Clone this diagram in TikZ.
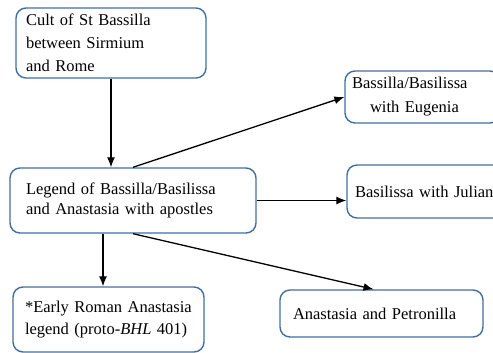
\documentclass[tikz,border=0pt]{standalone}
\usepackage{fontspec}
\setmainfont{Liberation Serif}
\usetikzlibrary{arrows.meta}
\definecolor{boxblue}{RGB}{66,110,158}
\begin{document}
\begin{tikzpicture}[x=1pt,y=-1pt,
  box/.style={draw=boxblue,line width=1.4pt,rounded corners=10pt,align=left,
    font=\fontsize{16.5}{22}\selectfont,inner ysep=0pt},
  link/.style={line width=1.3pt,-{Latex[length=10pt,width=8pt]}}]
\useasboundingbox (0,0) rectangle (493,353);

\node[box,text width=170pt,inner xsep=10pt,minimum height=70pt,
  font=\fontsize{16.5}{23}\selectfont] (cult) at (111,43)
  {Cult of St Bassilla\\between Sirmium\\and Rome};
\node[box,text width=141pt,inner xsep=7pt,minimum height=52pt,
  font=\fontsize{16.5}{24}\selectfont] (eugenia) at (422.5,97)
  {Bassilla/Basilissa\\\hspace*{18pt}with Eugenia};
\node[box,text width=150pt,inner xsep=8pt,minimum height=53pt] (julian) at (430,191.5)
  {Basilissa with Julian};
\node[box,text width=214pt,inner xsep=16pt,minimum height=65pt,
  font=\fontsize{16.5}{20}\selectfont] (legend) at (133,200.5)
  {Legend of Bassilla/Basilissa\\and Anastasia with apostles};
\node[box,text width=167pt,inner xsep=12pt,minimum height=65pt] (early) at (108.5,319.5)
  {*Early Roman Anastasia\\legend (proto-\textit{BHL} 401)};
\node[box,text width=177pt,inner xsep=13pt,minimum height=47pt] (petro) at (381.5,313.5)
  {Anastasia and Petronilla};

\draw[link] (cult.south) -- (cult.south |- legend.north);
\draw[link] (legend.north) -- (eugenia.west);
\draw[link] (legend.east) -- (legend.east -| julian.west);
\draw[link] ([xshift=-30pt]legend.south) -- ([xshift=-30pt]legend.south |- early.north);
\draw[link] (legend.south) -- ([xshift=-8pt]petro.north);
\end{tikzpicture}
\end{document}
